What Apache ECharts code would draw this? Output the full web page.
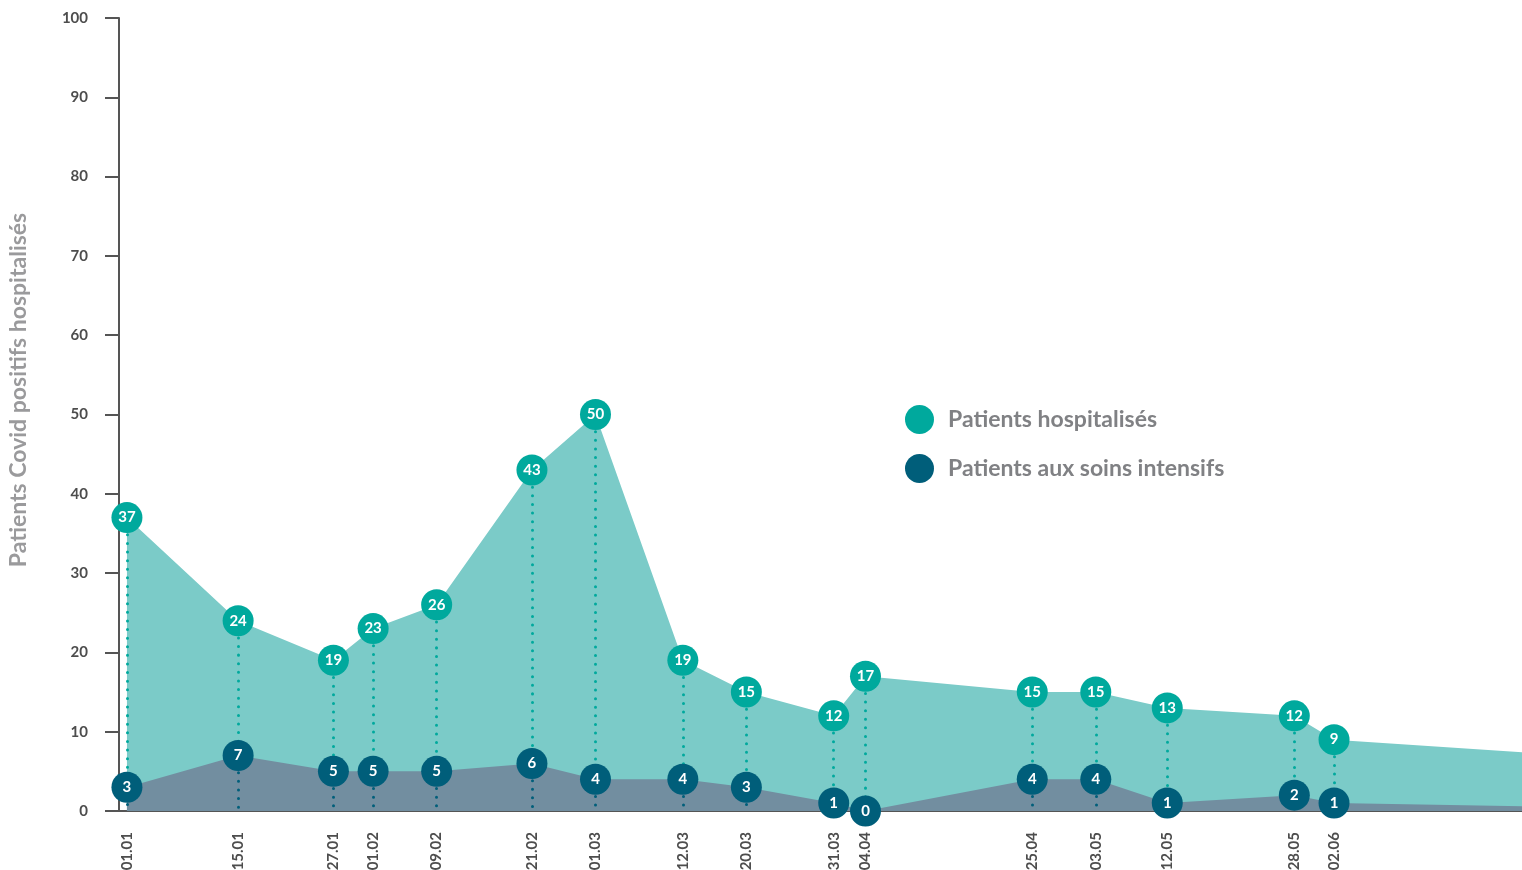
<!DOCTYPE html>
<html><head><meta charset="utf-8">
<script src="https://cdn.jsdelivr.net/npm/echarts@6/dist/echarts.min.js"></script>
<style>html,body{margin:0;padding:0;background:#fff}#c{width:1522px;height:870px}</style>
</head><body><div id="c"></div>
<script>
const year = 2021;
const dates = ["01.01","15.01","27.01","01.02","09.02","21.02","01.03","12.03","20.03","31.03","04.04","25.04","03.05","12.05","28.05","02.06"];
const hospitalised = [37,24,19,23,26,43,50,19,15,12,17,15,15,13,12,9];
const intensive = [3,7,5,5,5,6,4,4,3,1,0,4,4,1,2,1];
// values where the areas leave the plot on the right (continuing past the last labelled date)
const tailDate = "25.06";
const tailHospitalised = 7.4;
const tailIntensive = 0.6;

// day number since 1 January
function dayOf(s){ const [d,m] = s.split('.').map(Number); return (Date.UTC(year, m-1, d) - Date.UTC(year,0,1))/864e5; }
const xs = dates.map(dayOf);
const tailX = dayOf(tailDate) + 0.67;
const axisMin = -1;
const labelOf = {}; xs.forEach((x,i)=>labelOf[x]=dates[i]);
const hospPts = xs.map((x,i)=>[x,hospitalised[i]]);
const icuPts = xs.map((x,i)=>[x,intensive[i]]);
const hospArea = hospPts.concat([[tailX,tailHospitalised]]);
const icuArea = icuPts.concat([[tailX,tailIntensive]]);

const TEAL='#00a99d', DARK='#005e7a', FONT='Lato, "Open Sans", sans-serif';
const dotted = {type:[0.01,8.6], width:3, cap:'round'};
const markerLabel = {show:true, position:'inside', color:'#fff', fontSize:15, fontWeight:'bold', fontFamily:FONT};
const chart = echarts.init(document.getElementById('c'));
chart.setOption({
  animation:false,
  grid:{left:119,right:0,top:18,bottom:59, containLabel:false, outerBoundsMode:'none'},
  legend:{
    orient:'vertical', left:900, top:400, itemWidth:29, itemHeight:29, itemGap:20, icon:'circle',
    textStyle:{color:'#808184', fontSize:23, fontWeight:'bold', fontFamily:FONT, padding:[0,0,0,9]},
    data:['Patients hospitalisés','Patients aux soins intensifs']
  },
  graphic:[{type:'text', x:19, y:390, rotation:Math.PI/2,
    style:{text:'Patients Covid positifs hospitalisés', fill:'#9a9a9c', font:'bold 23px '+FONT, align:'center', verticalAlign:'middle'}}],
  xAxis:{
    type:'value', min:axisMin, max:tailX,
    axisLine:{onZero:false, lineStyle:{color:'#555',width:2}},
    axisTick:{show:false},
    splitLine:{show:false},
    axisLabel:{customValues:xs, rotate:90, margin:21, color:'#4d4d4d', fontSize:15, fontWeight:'bold', fontFamily:FONT,
      formatter:v=>labelOf[v] || ''}
  },
  yAxis:{
    type:'value', min:0, max:100, interval:10,
    axisLine:{show:true, onZero:false, lineStyle:{color:'#555',width:2}},
    axisTick:{show:true,length:14,lineStyle:{color:'#555',width:2}},
    splitLine:{show:false},
    axisLabel:{margin:31, color:'#4d4d4d', fontSize:15, fontWeight:'bold', fontFamily:FONT}
  },
  series:[
    {name:'hosp-area', type:'line', data:hospArea, z:1, symbol:'none', silent:true,
      lineStyle:{width:0}, areaStyle:{color:'#7bcbc8', opacity:1}},
    {name:'icu-area', type:'line', data:icuArea, z:1, symbol:'none', silent:true,
      lineStyle:{width:0}, areaStyle:{color:'#728ea0', opacity:1}},
    {name:'Patients hospitalisés', type:'line', data:hospPts, z:3,
      symbol:'circle', symbolSize:31, itemStyle:{color:TEAL}, lineStyle:{width:0},
      label:markerLabel,
      markLine:{silent:true, z:2, symbol:['none','none'], label:{show:false},
        lineStyle:Object.assign({color:TEAL},dotted),
        data:xs.map((x,i)=>[{coord:[x,hospitalised[i]]},{coord:[x,intensive[i]]}])}
    },
    {name:'Patients aux soins intensifs', type:'line', data:icuPts, z:4,
      symbol:'circle', symbolSize:31, itemStyle:{color:DARK}, lineStyle:{width:0},
      label:markerLabel,
      markLine:{silent:true, z:2, symbol:['none','none'], label:{show:false},
        lineStyle:Object.assign({color:DARK},dotted),
        data:xs.map((x,i)=>[{coord:[x,intensive[i]]},{coord:[x,0]}])}
    }
  ]
});
</script></body></html>
